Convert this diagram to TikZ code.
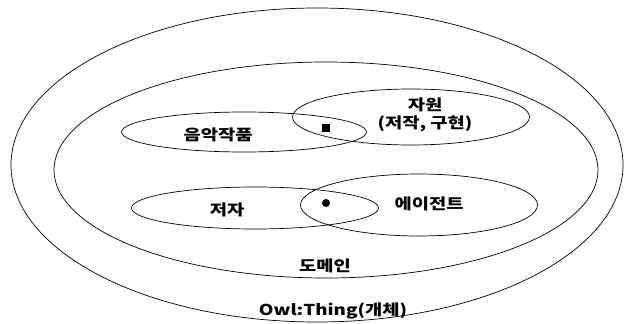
\documentclass[tikz,border=0pt]{standalone}
\usepackage{fontspec}
\newfontfamily\kr[FakeStretch=1.25]{Noto Sans CJK KR}
\usetikzlibrary{shapes.geometric}
\tikzset{
  set/.style={draw, ellipse, inner sep=0pt, line width=0.7pt},
  lbl/.style={font=\kr\bfseries\fontsize{15}{18}\selectfont, inner sep=0pt, align=center}
}
\begin{document}
\begin{tikzpicture}[x=1pt,y=-1pt]
\useasboundingbox (0,0) rectangle (625,324);
% sets
\node[set, minimum width=612pt, minimum height=314pt] (thing) at (317,165){};
\node[set, minimum width=544pt, minimum height=216pt] (domain) at (326,170){};
\node[set, minimum width=245pt, minimum height=40pt] (music) at (244,132){};
\node[set, minimum width=237pt, minimum height=56pt] (res) at (411,117){};
\node[set, minimum width=247pt, minimum height=42pt] (author) at (255,208){};
\node[set, minimum width=237pt, minimum height=62pt] (agent) at (419,205){};
%
\node[lbl] (musiclbl) at (218,135){음악작품};
\node[lbl] (reslbl) at (425,115){자원\\(저작, 구현)};
\node[lbl] (authorlbl) at (227,210){저자};
\node[lbl] (agentlbl) at (429,204){에이전트};
\node[lbl] (domainlbl) at (325,266){도메인};
\node[lbl] (thinglbl) at (333,311){Owl:Thing(개체)};
%
\node[fill, minimum size=8pt, inner sep=0pt] (sq) at (326,128){};
\node[fill, circle, minimum size=8pt, inner sep=0pt] (dot) at (326,203){};

\end{tikzpicture}
\end{document}
